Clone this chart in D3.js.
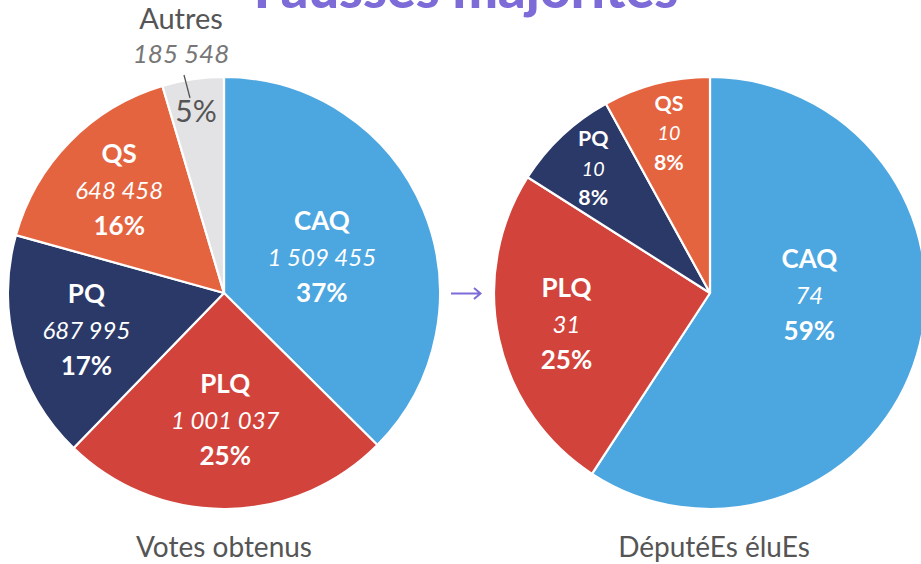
<!DOCTYPE html>
<html><head><meta charset="utf-8">
<script src="https://cdn.jsdelivr.net/npm/d3@7"></script>
<style>html,body{margin:0;padding:0;background:#fff;}svg{display:block;font-family:Lato,"Open Sans",sans-serif;}</style>
</head><body>
<svg id="c" width="921" height="564"></svg>
<script>
const parties = ["CAQ","PLQ","PQ","QS","Autres"];
const votes = [1509455, 1001037, 687995, 648458, 185548];
const seatParties = ["CAQ","PLQ","PQ","QS"];
const seats = [74, 31, 10, 10];
const colors = {CAQ:"#4CA6E0", PLQ:"#D2433B", PQ:"#2B3969", QS:"#E56440", Autres:"#E3E3E6"};
const title = "Fausses majorités";
const captions = ["Votes obtenus","DéputéEs éluEs"];

const svg = d3.select("#c");
const R = 216;
const fmt = n => d3.format(",")(n).replace(/,/g, "\u202F");

// Title (cut at top, as in the reference)
svg.append("text").attr("x", 466).attr("y", 8).attr("text-anchor","middle")
  .attr("font-size", 54).attr("font-weight", 900).attr("fill", "#7D6BD8").text(title);

function drawPie(cx, cy, names, vals, labelCfg) {
  const g = svg.append("g").attr("transform", `translate(${cx},${cy})`);
  const data = names.map((n,i)=>({name:n, value:vals[i]}));
  const total = d3.sum(vals);
  const arcs = d3.pie().sort(null).value(d=>d.value)(data);
  const arc = d3.arc().innerRadius(0).outerRadius(R);
  g.selectAll("path").data(arcs).join("path")
    .attr("d", arc).attr("fill", d=>colors[d.data.name])
    .attr("stroke","#fff").attr("stroke-width",2.2).attr("stroke-linejoin","round");
  arcs.forEach(a => {
    const cfg = labelCfg[a.data.name];
    if (!cfg) return;
    const mid = cfg.ang !== undefined ? cfg.ang*Math.PI/180 : (a.startAngle+a.endAngle)/2;
    const r = cfg.r*R;
    const x = Math.sin(mid)*r, y = -Math.cos(mid)*r;
    const pct = Math.round(a.data.value/total*100) + "%";
    const t = g.append("text").attr("text-anchor","middle").attr("fill","#fff")
      .attr("transform", `translate(${x},${y})`);
    const s = cfg.s || 1;
    t.append("tspan").attr("x",0).attr("y",-36*s+9*s).attr("font-weight",700).attr("font-size",26*s).text(a.data.name);
    t.append("tspan").attr("x",0).attr("y",9*s).attr("font-style","italic").attr("font-size",24*s).text(fmt(a.data.value));
    t.append("tspan").attr("x",0).attr("y",36*s+9*s).attr("font-weight",700).attr("font-size",26*s).text(pct);
  });
  return {g, arcs, arc, total};
}

const left = drawPie(224, 293, parties, votes, {
  CAQ:{r:0.482, ang:70}, PLQ:{r:0.59}, PQ:{r:0.66}, QS:{r:0.68}
});
// Autres outside label
const au = left.arcs.find(a=>a.data.name==="Autres");
const lg = left.g;
lg.append("text").attr("x",-43).attr("y",-264).attr("text-anchor","middle")
  .attr("font-size",29).attr("fill","#555").text(au.data.name);
lg.append("text").attr("x",-43).attr("y",-230).attr("text-anchor","middle")
  .attr("font-size",26).attr("font-style","italic").attr("fill","#777").text(fmt(au.data.value));
lg.append("line").attr("x1",-40).attr("y1",-218).attr("x2",-34).attr("y2",-195)
  .attr("stroke","#555").attr("stroke-width",1.3);
lg.append("text").attr("x",-28).attr("y",-171).attr("text-anchor","middle")
  .attr("font-size",30).attr("fill","#555").text(Math.round(au.data.value/left.total*100)+"%");

drawPie(710, 293, seatParties, seats, {
  CAQ:{r:0.46, ang:91}, PLQ:{r:0.68}, PQ:{r:0.79, s:0.82}, QS:{r:0.765, s:0.82}
});

// Arrow
svg.append("path").attr("d","M451,293.5 H480 M474,288 L480.5,293.5 L474,299")
  .attr("fill","none").attr("stroke","#7D6BD8").attr("stroke-width",2);

// Captions
svg.append("text").attr("x",224).attr("y",557).attr("text-anchor","middle")
  .attr("font-size",28).attr("fill","#555").text(captions[0]);
svg.append("text").attr("x",714).attr("y",557).attr("text-anchor","middle")
  .attr("font-size",28).attr("fill","#555").text(captions[1]);
</script>
</body></html>
